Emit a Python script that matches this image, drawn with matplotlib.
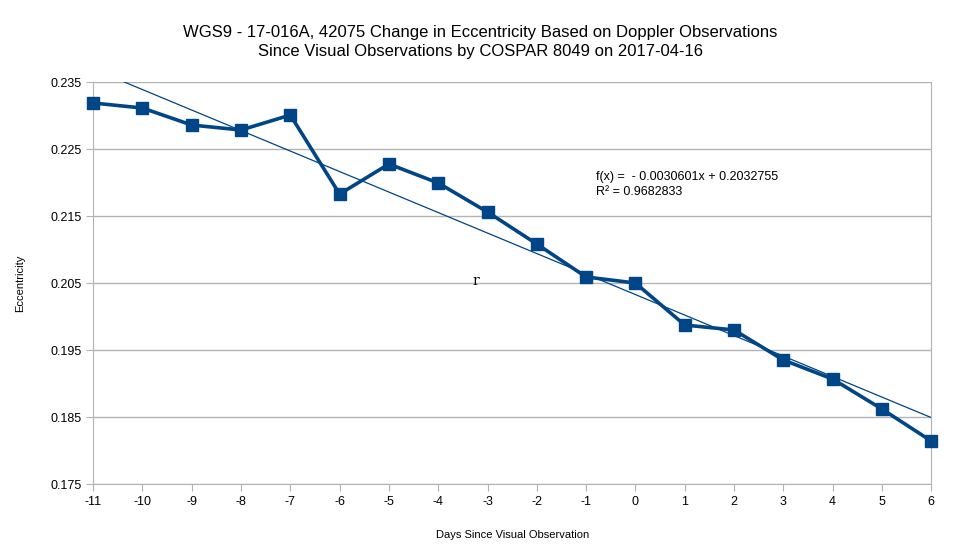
import numpy as np
import matplotlib
matplotlib.use("Agg")
import matplotlib.pyplot as plt

plt.rcParams['font.family'] = ['Liberation Sans', 'DejaVu Sans']
plt.rcParams['axes.unicode_minus'] = False

# Daten
days = [-11, -10, -9, -8, -7, -6, -5, -4, -3, -2, -1, 0, 1, 2, 3, 4, 5, 6]
ecc = [0.23187, 0.23112, 0.22858, 0.22784, 0.23007, 0.21828, 0.22276, 0.21993,
       0.21560, 0.21082, 0.20590, 0.20500, 0.19873, 0.19799, 0.19351, 0.19067,
       0.18619, 0.18142]
slope = -0.0030601
intercept = 0.2032755
yticks = [0.175, 0.185, 0.195, 0.205, 0.215, 0.225, 0.235]

fig = plt.figure(figsize=(9.6, 5.58), dpi=100)
ax = fig.add_axes([0.097, 0.1326, 0.873, 0.7204])

blue = '#004586'
grey = '#b3b3b3'

ax.plot(days, ecc, color=blue, lw=2.6, marker='s', ms=8, zorder=3, clip_on=False)

tx = np.array([days[0], days[-1]])
ax.plot(tx, slope * tx + intercept, color=blue, lw=0.9, zorder=2)

ax.set_xlim(-11, 6)
ax.set_ylim(0.175, 0.235)
ax.set_xticks(days)
ax.set_xticklabels([str(d) for d in days])
ax.set_yticks(yticks)
ax.set_yticklabels([f"{v:.3f}" for v in yticks])
ax.grid(axis='y', color=grey, lw=1)
ax.set_axisbelow(True)
for s in ['left', 'bottom', 'right']:
    ax.spines[s].set_color(grey)
ax.spines['top'].set_visible(False)
ax.tick_params(colors=grey, labelcolor='black', labelsize=9, length=5, direction='out')

ax.set_xlabel('Days Since Visual Observation', fontsize=8, labelpad=16)
ax.set_ylabel('Eccentricity', fontsize=8, labelpad=18)
fig.suptitle('WGS9 - 17-016A, 42075 Change in Eccentricity Based on Doppler Observations\n'
             'Since Visual Observations by COSPAR 8049 on 2017-04-16',
             fontsize=12, y=0.955, linespacing=1.3)

ax.text(-0.8, 0.2197, 'f(x) =  - 0.0030601x + 0.2032755\nR² = 0.9682833',
        fontsize=9, ha='left', va='center', linespacing=1.3)
ax.text(-3.3, 0.2053, 'r', fontsize=10, family='DejaVu Serif', ha='left', va='center')

fig.savefig('out.png', dpi=100)
